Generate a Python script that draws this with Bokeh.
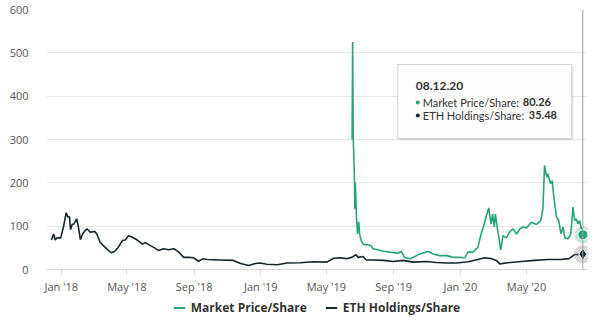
import pandas as pd
from bokeh.plotting import figure
from bokeh.layouts import column
from bokeh.models import (Range1d, DatetimeTickFormatter, MonthsTicker, SingleIntervalTicker,
                          Legend, LegendItem, Span)
from bokeh.core.properties import value
from bokeh.embed import file_html
from bokeh.resources import INLINE

# ---------------- data ----------------
eth_dates = ["2017-12-14", "2017-12-18", "2017-12-21", "2017-12-24", "2017-12-31", "2018-01-05",
             "2018-01-10", "2018-01-13", "2018-01-16", "2018-01-18", "2018-01-21", "2018-01-24",
             "2018-01-29", "2018-02-01", "2018-02-05", "2018-02-09", "2018-02-14", "2018-02-17",
             "2018-02-23", "2018-03-03", "2018-03-07", "2018-03-13", "2018-03-19", "2018-03-28",
             "2018-04-03", "2018-04-09", "2018-04-15", "2018-04-23", "2018-04-28", "2018-05-04",
             "2018-05-10", "2018-05-20", "2018-05-29", "2018-06-04", "2018-06-13", "2018-06-19",
             "2018-06-28", "2018-07-07", "2018-07-16", "2018-07-26", "2018-08-04", "2018-08-13",
             "2018-08-22", "2018-08-31", "2018-09-09", "2018-09-18", "2018-09-25", "2018-10-19",
             "2018-11-12", "2018-11-25", "2018-12-10", "2018-12-22", "2018-12-31", "2019-01-12",
             "2019-01-31", "2019-02-18", "2019-03-14", "2019-04-07", "2019-05-02", "2019-05-14",
             "2019-05-26", "2019-06-07", "2019-06-16", "2019-06-24", "2019-06-28", "2019-07-07",
             "2019-07-13", "2019-07-25", "2019-08-13", "2019-08-31", "2019-09-18", "2019-10-07",
             "2019-10-31", "2019-11-18", "2019-12-07", "2019-12-25", "2020-01-15", "2020-02-02",
             "2020-02-14", "2020-02-27", "2020-03-07", "2020-03-13", "2020-03-28", "2020-04-22",
             "2020-05-16", "2020-06-09", "2020-07-03", "2020-07-18", "2020-07-27", "2020-08-12"]
eth_values = [68, 82, 68, 73, 73, 98,
              131, 121, 122, 92, 104, 105,
              117, 101, 69, 82, 90, 94,
              86, 88, 82, 63, 55, 44,
              38.5, 42, 51, 67, 68, 78,
              75, 68, 59, 62, 55, 51,
              44, 48, 45.5, 48, 40, 28,
              28, 27, 19, 25, 23, 22,
              21, 14, 9, 14, 15, 12,
              11, 15, 15.5, 18, 17, 26,
              27, 25, 28, 34, 28, 30,
              22, 22, 21, 18.5, 21, 17,
              18.5, 16, 15, 15, 18, 23,
              27, 25, 21, 13, 15.5, 18.5,
              21, 23, 23, 25, 34, 35.48]

mkt_dates = ["2019-06-17", "2019-06-18", "2019-06-19", "2019-06-21", "2019-06-22", "2019-06-23",
             "2019-06-25", "2019-06-27", "2019-06-29", "2019-07-01", "2019-07-04", "2019-07-08",
             "2019-07-15", "2019-07-22", "2019-07-25", "2019-08-03", "2019-08-13", "2019-08-25",
             "2019-09-09", "2019-09-15", "2019-09-21", "2019-09-30", "2019-10-07", "2019-10-19",
             "2019-11-03", "2019-11-12", "2019-11-24", "2019-12-07", "2019-12-19", "2019-12-31",
             "2020-01-09", "2020-01-15", "2020-01-24", "2020-02-02", "2020-02-08", "2020-02-12",
             "2020-02-18", "2020-02-22", "2020-02-26", "2020-02-29", "2020-03-03", "2020-03-05",
             "2020-03-09", "2020-03-15", "2020-03-19", "2020-03-25", "2020-03-31", "2020-04-06",
             "2020-04-13", "2020-04-19", "2020-04-25", "2020-05-01", "2020-05-10", "2020-05-19",
             "2020-05-27", "2020-05-31", "2020-06-03", "2020-06-07", "2020-06-09", "2020-06-14",
             "2020-06-17", "2020-06-20", "2020-06-25", "2020-06-29", "2020-07-03", "2020-07-07",
             "2020-07-10", "2020-07-16", "2020-07-21", "2020-07-25", "2020-07-28", "2020-07-31",
             "2020-08-03", "2020-08-06", "2020-08-09", "2020-08-12"]
mkt_values = [300, 525, 305, 225, 140, 200,
              120, 82, 110, 80, 65, 58,
              57, 55, 48, 45.5, 42, 40,
              37.6, 42, 28, 25, 28, 36,
              41.5, 36, 32, 32, 28, 28,
              27, 40, 40, 51, 82, 98,
              125, 142, 105, 128, 98, 128,
              94, 45, 78, 73, 86, 94,
              82, 94, 98, 96, 109, 104,
              113, 140, 240, 213, 221, 198,
              205, 167, 121, 113, 82, 98,
              73, 71, 82, 144, 113, 117,
              105, 113, 96, 80.26]

series_names = ["Market Price/Share", "ETH Holdings/Share"]
tooltip_date = "08.12.20"

# ---------------- styling ----------------
GREEN = "#25a57c"
DARK = "#15272c"
FONT = "Open Sans"
TFONT = "Lato"

eth_x = pd.to_datetime(eth_dates)
mkt_x = pd.to_datetime(mkt_dates)

p = figure(width=600, height=296, output_backend="svg", toolbar_location=None,
           x_axis_type="datetime",
           x_range=Range1d(pd.Timestamp("2017-12-05"), pd.Timestamp("2020-08-20 14:00")),
           y_range=Range1d(0, 600),
           min_border_left=46, min_border_right=13, min_border_top=9, min_border_bottom=27)
p.outline_line_color = None
p.background_fill_color = "white"
p.border_fill_color = "white"

p.xgrid.grid_line_color = None
p.ygrid.grid_line_color = "#e6e6e6"
p.ygrid.ticker = SingleIntervalTicker(interval=100)

p.yaxis.ticker = SingleIntervalTicker(interval=100)
p.yaxis.axis_line_color = None
p.yaxis.major_tick_line_color = None
p.yaxis.minor_tick_line_color = None
p.yaxis.major_label_text_font = FONT
p.yaxis.major_label_text_font_size = "11px"
p.yaxis.major_label_text_color = "#555555"
p.yaxis.major_label_standoff = 12

p.xaxis.ticker = MonthsTicker(months=[0, 4, 8])
p.xaxis.formatter = DatetimeTickFormatter(months="%b '%y", days="%b '%y", years="%b '%y")
p.xaxis.axis_line_color = "#d8d8d8"
p.xaxis.major_tick_line_color = "#d8d8d8"
p.xaxis.major_tick_in = 0
p.xaxis.major_tick_out = 5
p.xaxis.minor_tick_line_color = None
p.xaxis.major_label_text_font = FONT
p.xaxis.major_label_text_font_size = "11px"
p.xaxis.major_label_text_color = "#555555"
p.xaxis.major_label_standoff = 4

r_eth = p.line(eth_x, eth_values, line_color=DARK, line_width=1.6)
r_mkt = p.line(mkt_x, mkt_values, line_color=GREEN, line_width=1.6)

# crosshair at the hovered date
last_x = mkt_x[-1]
p.add_layout(Span(location=last_x, dimension="height", line_color="#a0a0a0", line_width=1))

# hover markers
p.scatter([last_x], [mkt_values[-1]], size=17, fill_color=GREEN, fill_alpha=0.25, line_color=None)
p.scatter([last_x], [mkt_values[-1]], size=10, fill_color=GREEN, line_color="white", line_width=1)
p.scatter([last_x], [eth_values[-1]], size=18, fill_color="#8a8a8a", fill_alpha=0.35, line_color=None)
p.scatter([last_x], [eth_values[-1]], marker="diamond", size=12, fill_color=DARK,
          line_color="white", line_width=1)

# tooltip box (anchored relative to the hovered point)
PXD = 0.5467   # px per day
PXV = 0.4333   # px per unit
def ax(dpx):
    return last_x + pd.Timedelta(days=dpx / PXD)
def ay(py):
    return (269 - py) / PXV

p.quad(left=[ax(-183)], right=[ax(-9)], top=[ay(66)], bottom=[ay(140)],
       fill_color="black", fill_alpha=0.08, line_color=None)
p.quad(left=[ax(-185)], right=[ax(-11)], top=[ay(64)], bottom=[ay(138)],
       fill_color="white", fill_alpha=0.95, line_color="#cfcfcf", line_width=1)

p.text(x=[ax(-167)], y=[ay(86)], text=[tooltip_date], text_font=value(TFONT),
       text_font_size="12px", text_font_style="bold", text_color="#333333",
       text_baseline="middle", text_align="left")
p.scatter([ax(-165)], [ay(102)], size=4, fill_color=GREEN, line_color=None)
p.scatter([ax(-165)], [ay(115)], size=4, fill_color=DARK, line_color=None)
p.text(x=[ax(-160), ax(-160)], y=[ay(102), ay(115)],
       text=[series_names[0] + ":", series_names[1] + ":"], text_font=value(TFONT),
       text_font_size="11px", text_color="#333333", text_baseline="middle", text_align="left")
p.text(x=[ax(-60), ax(-54)], y=[ay(102), ay(115)],
       text=[f"{mkt_values[-1]:.2f}", f"{eth_values[-1]:.2f}"], text_font=value(TFONT),
       text_font_size="11px", text_font_style="bold", text_color="#333333",
       text_baseline="middle", text_align="left")

# ---------------- legend strip below the chart ----------------
lg = figure(width=600, height=22, output_backend="svg", toolbar_location=None,
            x_axis_location=None, y_axis_location=None,
            x_range=Range1d(0, 1), y_range=Range1d(0, 1),
            min_border_left=0, min_border_right=0, min_border_top=0, min_border_bottom=0)
lg.outline_line_color = None
lg.xgrid.grid_line_color = None
lg.ygrid.grid_line_color = None
# legend proxies (kept outside the visible range of this strip)
l_mkt = lg.line([-5, -4], [-5, -5], line_color=GREEN, line_width=2)
l_eth = lg.line([-5, -4], [-5, -5], line_color=DARK, line_width=2)

legend = Legend(items=[LegendItem(label=series_names[0], renderers=[l_mkt]),
                       LegendItem(label=series_names[1], renderers=[l_eth])],
                orientation="horizontal", location="center")
legend.label_text_font = FONT
legend.label_text_font_size = "12px"
legend.label_text_font_style = "bold"
legend.label_text_color = "#333333"
legend.glyph_width = 12
legend.glyph_height = 14
legend.label_height = 14
legend.label_standoff = 6
legend.spacing = 18
legend.padding = 2
legend.margin = 0
legend.border_line_color = None
legend.background_fill_alpha = 0
lg.add_layout(legend, "center")

layout = column(p, lg, spacing=0)
open("out.html", "w").write(file_html(layout, INLINE))
